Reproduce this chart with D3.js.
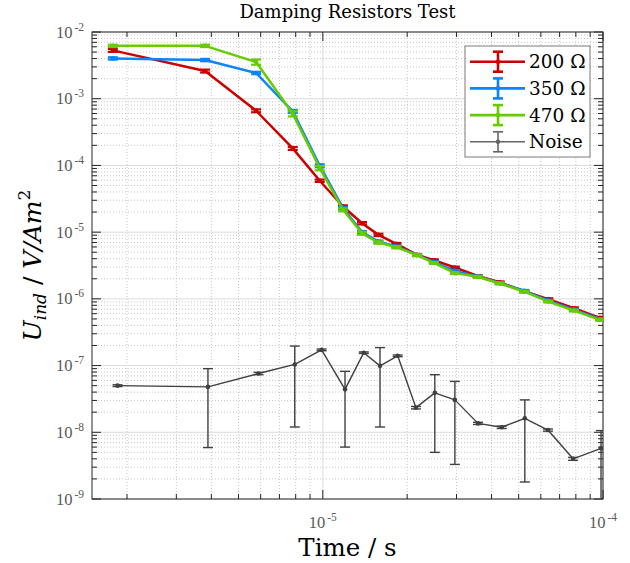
<!DOCTYPE html>
<html>
<head>
<meta charset="utf-8">
<script src="https://cdn.jsdelivr.net/npm/d3@7"></script>
<style>
  html, body { margin: 0; padding: 0; background: #fff; }
  svg { display: block; }
</style>
</head>
<body>
<svg id="chart" width="630" height="563"></svg>
<script>
// ---------------- data ----------------
const timeSeries = [1.78e-6, 3.8e-6, 5.78e-6, 7.81e-6, 9.75e-6, 1.18e-5, 1.38e-5, 1.58e-5, 1.83e-5,
                    2.17e-5, 2.49e-5, 2.96e-5, 3.57e-5, 4.28e-5, 5.24e-5, 6.38e-5, 7.87e-5, 9.76e-5];
const timeNoise  = [1.85e-6, 3.89e-6, 5.89e-6, 7.94e-6, 9.9e-6, 1.2e-5, 1.4e-5, 1.6e-5, 1.85e-5,
                    2.15e-5, 2.51e-5, 2.96e-5, 3.58e-5, 4.35e-5, 5.26e-5, 6.36e-5, 7.82e-5, 9.84e-5];

const r200 = [5.3e-3, 2.6e-3, 6.6e-4, 1.8e-4, 5.9e-5, 2.42e-5, 1.36e-5, 9.1e-6, 6.68e-6,
              4.57e-6, 3.8e-6, 2.95e-6, 2.2e-6, 1.77e-6, 1.3e-6, 9.9e-7, 7.24e-7, 5.2e-7];
const r350 = [4.02e-3, 3.8e-3, 2.43e-3, 6.46e-4, 9.9e-5, 2.3e-5, 1.0e-5, 7.2e-6, 6.1e-6,
              4.55e-6, 3.55e-6, 2.63e-6, 2.16e-6, 1.72e-6, 1.32e-6, 9.4e-7, 6.9e-7, 5.0e-7];
const r470 = [6.2e-3, 6.2e-3, 3.55e-3, 5.96e-4, 9.1e-5, 2.16e-5, 9.6e-6, 6.98e-6, 5.95e-6,
              4.5e-6, 3.45e-6, 2.43e-6, 2.14e-6, 1.7e-6, 1.28e-6, 9.1e-7, 6.67e-7, 4.84e-7];
const noise = [5.0e-8, 4.79e-8, 7.6e-8, 1.04e-7, 1.72e-7, 4.4e-8, 1.56e-7, 9.9e-8, 1.4e-7,
               2.34e-8, 3.9e-8, 3.06e-8, 1.36e-8, 1.19e-8, 1.62e-8, 1.08e-8, 4.0e-9, 5.75e-9];

// relative error of the resistor series (fraction of value)
const err200 = [0.05, 0.05, 0.05, 0.05, 0.04, 0.04, 0.04, 0.04, 0.03,
                0.03, 0.03, 0.03, 0.03, 0.03, 0.03, 0.03, 0.03, 0.03];
const err350 = [0.04, 0.04, 0.04, 0.05, 0.05, 0.04, 0.04, 0.04, 0.03,
                0.03, 0.03, 0.03, 0.03, 0.03, 0.03, 0.03, 0.03, 0.03];
const err470 = [0.04, 0.04, 0.09, 0.09, 0.07, 0.05, 0.05, 0.04, 0.04,
                0.03, 0.03, 0.03, 0.03, 0.03, 0.03, 0.03, 0.03, 0.03];
// absolute error of the noise series
const errNoise = [1.5e-9, 4.2e-8, 3e-9, 9.2e-8, 5e-9, 3.8e-8, 4e-9, 8.7e-8, 4e-9,
                  1e-9, 3.4e-8, 2.73e-8, 5e-10, 5e-10, 1.44e-8, 4e-10, 2e-10, 4.85e-9];

const seriesNames = ["200 \u03A9", "350 \u03A9", "470 \u03A9", "Noise"];
const seriesColors = ["#cc0000", "#0a84ff", "#66cc00", "#404040"];

const xTickValues = [1e-5, 1e-4];
const xTickExps = ["-5", "-4"];
const yTickValues = [1e-9, 1e-8, 1e-7, 1e-6, 1e-5, 1e-4, 1e-3, 1e-2];
const yTickExps = ["-9", "-8", "-7", "-6", "-5", "-4", "-3", "-2"];

const titleText = "Damping Resistors Test";
const xLabelText = "Time / s";

// ---------------- layout ----------------
const L = 92, R = 603, T = 32, B = 499;
const svg = d3.select("#chart");
const x = d3.scaleLog().domain([1.5e-6, 1e-4]).range([L, R]);
const y = d3.scaleLog().domain([1e-9, 1e-2]).range([B, T]);

svg.append("rect").attr("x", L).attr("y", T).attr("width", R - L).attr("height", B - T).attr("fill", "#fff");

svg.append("defs").append("clipPath").attr("id", "clip")
  .append("rect").attr("x", L).attr("y", T).attr("width", R - L).attr("height", B - T);

function logTicks(lo, hi) {
  const out = [];
  for (let e = Math.floor(Math.log10(lo)); e <= Math.ceil(Math.log10(hi)); e++) {
    for (let m = 1; m <= 9; m++) {
      const v = m * Math.pow(10, e);
      if (v >= lo * 0.9999 && v <= hi * 1.0001) out.push({ v, major: m === 1 });
    }
  }
  return out;
}
const xt = logTicks(1.5e-6, 1e-4);
const yt = logTicks(1e-9, 1e-2);

const grid = svg.append("g");
grid.selectAll(".xmg").data(xt.filter(d => !d.major)).join("line")
  .attr("x1", d => x(d.v)).attr("x2", d => x(d.v)).attr("y1", T).attr("y2", B)
  .attr("stroke", "#c8c8c8").attr("stroke-width", 1).attr("stroke-dasharray", "1,2");
grid.selectAll(".ymg").data(yt.filter(d => !d.major)).join("line")
  .attr("y1", d => y(d.v)).attr("y2", d => y(d.v)).attr("x1", L).attr("x2", R)
  .attr("stroke", "#c8c8c8").attr("stroke-width", 1).attr("stroke-dasharray", "1,2");
grid.selectAll(".xMg").data(xt.filter(d => d.major)).join("line")
  .attr("x1", d => x(d.v)).attr("x2", d => x(d.v)).attr("y1", T).attr("y2", B)
  .attr("stroke", "#dcdcdc").attr("stroke-width", 1);
grid.selectAll(".yMg").data(yt.filter(d => d.major)).join("line")
  .attr("y1", d => y(d.v)).attr("y2", d => y(d.v)).attr("x1", L).attr("x2", R)
  .attr("stroke", "#dcdcdc").attr("stroke-width", 1);

const axisColor = "#262626";
function addTicks(g, ticks, orient) {
  ticks.forEach(d => {
    const len = d.major ? 9 : 5;
    if (orient === "bottom") g.append("line").attr("x1", x(d.v)).attr("x2", x(d.v)).attr("y1", B).attr("y2", B - len);
    if (orient === "top") g.append("line").attr("x1", x(d.v)).attr("x2", x(d.v)).attr("y1", T).attr("y2", T + len);
    if (orient === "left") g.append("line").attr("y1", y(d.v)).attr("y2", y(d.v)).attr("x1", L).attr("x2", L + len);
    if (orient === "right") g.append("line").attr("y1", y(d.v)).attr("y2", y(d.v)).attr("x1", R).attr("x2", R - len);
  });
}
const axG = svg.append("g").attr("stroke", axisColor).attr("stroke-width", 1);
addTicks(axG, xt, "bottom"); addTicks(axG, xt, "top");
addTicks(axG, yt, "left"); addTicks(axG, yt, "right");
axG.append("rect").attr("x", L).attr("y", T).attr("width", R - L).attr("height", B - T).attr("fill", "none");

// tick labels
const tickFont = "'Liberation Serif', serif";
const tickColor = "#595959";
xTickValues.forEach((v, i) => {
  const t = svg.append("text").attr("x", x(v)).attr("y", 528).attr("text-anchor", "middle")
    .attr("font-family", tickFont).attr("font-size", 16.5).attr("fill", tickColor);
  t.append("tspan").text("10");
  t.append("tspan").attr("dx", 2).attr("dy", -7).attr("font-size", 11.5).text(xTickExps[i]);
});
yTickValues.forEach((v, i) => {
  const t = svg.append("text").attr("x", 84).attr("y", y(v) + 5.5).attr("text-anchor", "end")
    .attr("font-family", tickFont).attr("font-size", 16.5).attr("fill", tickColor);
  t.append("tspan").text("10");
  t.append("tspan").attr("dx", 2).attr("dy", -7).attr("font-size", 11.5).text(yTickExps[i]);
});

// title and axis labels
const labelFont = "'DejaVu Serif', serif";
svg.append("text").attr("x", (L + R) / 2).attr("y", 17.5).attr("text-anchor", "middle")
  .attr("font-family", labelFont).attr("font-size", 18).attr("fill", "#000").text(titleText);
svg.append("text").attr("x", (L + R) / 2).attr("y", 556).attr("text-anchor", "middle")
  .attr("font-family", labelFont).attr("font-size", 24.5).attr("fill", "#000").text(xLabelText);

const yl = svg.append("text").attr("transform", `translate(41,${(T + B) / 2}) rotate(-90)`)
  .attr("text-anchor", "middle").attr("font-family", labelFont).attr("font-size", 25).attr("fill", "#000");
yl.append("tspan").attr("font-style", "italic").text("U");
yl.append("tspan").attr("font-style", "italic").attr("font-size", 17).attr("dy", 5).text("ind");
yl.append("tspan").attr("dy", -5).text(" / ");
yl.append("tspan").attr("font-style", "italic").text("V/Am");
yl.append("tspan").attr("font-size", 17).attr("dy", -11).text("2");

// ---------------- series ----------------
const plot = svg.append("g").attr("clip-path", "url(#clip)");
const lineGen = d3.line().x(d => x(d.t)).y(d => y(d.v));

const seriesDefs = [
  { t: timeSeries, v: r200, e: r200.map((v, i) => v * err200[i]), color: seriesColors[0], w: 2.5 },
  { t: timeSeries, v: r350, e: r350.map((v, i) => v * err350[i]), color: seriesColors[1], w: 2.5 },
  { t: timeSeries, v: r470, e: r470.map((v, i) => v * err470[i]), color: seriesColors[2], w: 2.5 },
  { t: timeNoise, v: noise, e: errNoise, color: seriesColors[3], w: 1.4 }
];
[3, 0, 1, 2].forEach(k => {
  const s = seriesDefs[k];
  const pts = s.t.map((t, i) => ({ t, v: s.v[i], e: s.e[i] }));
  const g = plot.append("g");
  g.append("path").datum(pts).attr("d", lineGen).attr("fill", "none")
    .attr("stroke", s.color).attr("stroke-width", s.w).attr("stroke-linejoin", "round");
  const cap = 5;
  const ew = k === 3 ? 1.4 : 2.2;
  pts.forEach(p => {
    const lo = p.v - p.e;
    const yTop = y(p.v + p.e);
    const yBot = lo > 0 ? y(lo) : B + 20;
    const cx = x(p.t);
    g.append("line").attr("x1", cx).attr("x2", cx).attr("y1", yTop).attr("y2", yBot)
      .attr("stroke", s.color).attr("stroke-width", ew);
    g.append("line").attr("x1", cx - cap).attr("x2", cx + cap).attr("y1", yTop).attr("y2", yTop)
      .attr("stroke", s.color).attr("stroke-width", ew);
    g.append("line").attr("x1", cx - cap).attr("x2", cx + cap).attr("y1", yBot).attr("y2", yBot)
      .attr("stroke", s.color).attr("stroke-width", ew);
    g.append("circle").attr("cx", cx).attr("cy", y(p.v)).attr("r", 2.3).attr("fill", s.color);
  });
});

// ---------------- legend ----------------
const lg = svg.append("g");
lg.append("rect").attr("x", 465).attr("y", 46).attr("width", 125).attr("height", 111)
  .attr("fill", "#fff").attr("stroke", "#7a7a7a").attr("stroke-width", 1);
const legendColors = ["#cc0000", "#0a84ff", "#66cc00", "#666666"];
seriesNames.forEach((name, i) => {
  const ly = 61.7 + i * 26.7;
  const c = legendColors[i];
  const w = i === 3 ? 1.6 : 2.6;
  lg.append("line").attr("x1", 470).attr("x2", 525).attr("y1", ly).attr("y2", ly).attr("stroke", c).attr("stroke-width", w);
  lg.append("line").attr("x1", 498).attr("x2", 498).attr("y1", ly - 10).attr("y2", ly + 10).attr("stroke", c).attr("stroke-width", w);
  lg.append("line").attr("x1", 493).attr("x2", 503).attr("y1", ly - 10).attr("y2", ly - 10).attr("stroke", c).attr("stroke-width", w);
  lg.append("line").attr("x1", 493).attr("x2", 503).attr("y1", ly + 10).attr("y2", ly + 10).attr("stroke", c).attr("stroke-width", w);
  lg.append("circle").attr("cx", 498).attr("cy", ly).attr("r", 2.3).attr("fill", c);
  lg.append("text").attr("x", 529).attr("y", ly + 6.5).attr("font-family", labelFont)
    .attr("font-size", 18.5).attr("fill", "#000").text(name);
});
</script>
</body>
</html>
